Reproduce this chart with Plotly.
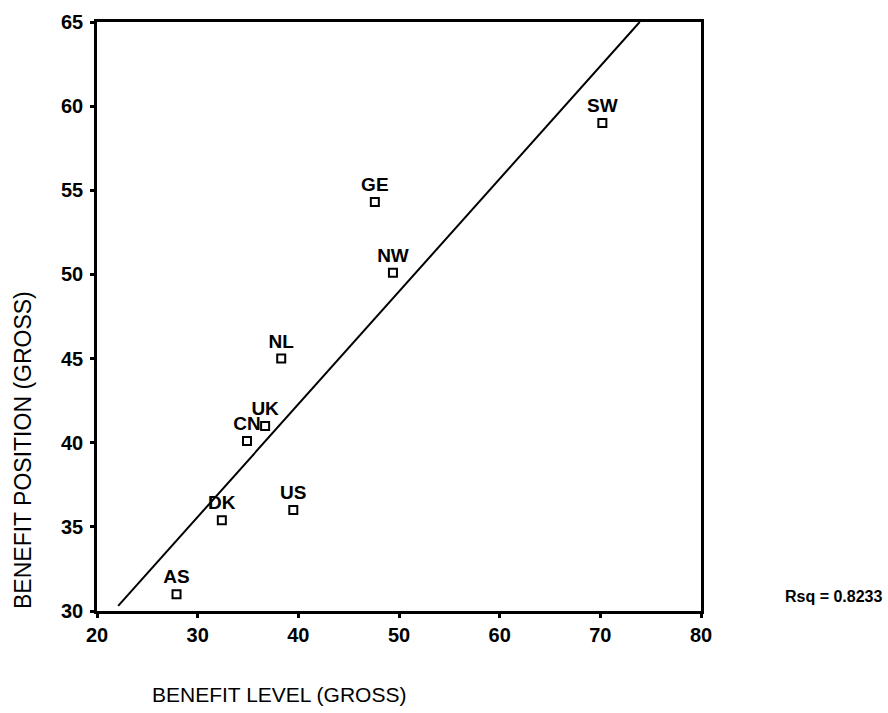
import numpy as np
import plotly.graph_objects as go

countries = ["AS", "DK", "US", "NL", "UK", "CN", "GE", "NW", "SW"]
benefit_level = [27.9, 32.4, 39.5, 38.3, 36.7, 34.9, 47.6, 49.4, 70.2]
benefit_position = [31.0, 35.4, 36.0, 45.0, 41.0, 40.1, 54.3, 50.1, 59.0]
x_ticks = [20, 30, 40, 50, 60, 70, 80]
y_ticks = [30, 35, 40, 45, 50, 55, 60, 65]
rsq_label = "Rsq = 0.8233"

FONT = "Liberation Sans, Arial, sans-serif"

# least squares fit line, clipped to y range
m, b = np.polyfit(benefit_level, benefit_position, 1)
y_lo, y_hi = 30.3, 65
line_x = [(y_lo - b) / m, (y_hi - b) / m]
line_y = [m * v + b for v in line_x]

fig = go.Figure()
fig.add_trace(go.Scatter(
    x=line_x, y=line_y, mode="lines",
    line=dict(color="black", width=2), hoverinfo="skip", showlegend=False,
))
fig.add_trace(go.Scatter(
    x=benefit_level, y=benefit_position, mode="markers+text",
    text=countries, textposition="top center",
    textfont=dict(family=FONT, size=19, color="black", weight="bold"),
    marker=dict(symbol="square-open", size=8, color="black", line=dict(width=2)),
    showlegend=False,
))

axis_common = dict(
    showgrid=False, zeroline=False,
    showline=True, linecolor="black", linewidth=2.5, mirror=True,
    ticks="outside", ticklen=4, tickwidth=3, tickcolor="black",
    tickfont=dict(family=FONT, size=20, color="black", weight="bold"),
)
fig.update_xaxes(range=[20, 80], tickvals=x_ticks, **axis_common)
fig.update_yaxes(range=[30, 65], tickvals=y_ticks, ticklabelstandoff=3, **axis_common)

fig.update_layout(
    width=888, height=713,
    margin=dict(l=97, r=187, t=22, b=102),
    plot_bgcolor="white", paper_bgcolor="white",
    annotations=[
        dict(text="BENEFIT LEVEL (GROSS)", xref="paper", yref="paper",
             x=(150 - 97) / 604, y=-(694 - 611) / 589, xanchor="left", yanchor="middle",
             showarrow=False, font=dict(family=FONT, size=21, color="black")),
        dict(text="BENEFIT POSITION (GROSS)", xref="paper", yref="paper",
             x=-(97 - 23) / 604, y=(611 - 450) / 589, xanchor="center", yanchor="middle",
             textangle=-90, showarrow=False, font=dict(family=FONT, size=23, color="black")),
        dict(text=rsq_label, xref="paper", yref="paper",
             x=(783 - 97) / 604, y=(611 - 596) / 589, xanchor="left", yanchor="middle",
             showarrow=False, font=dict(family=FONT, size=16, color="black", weight="bold")),
    ],
)

fig.write_html("out.html")
